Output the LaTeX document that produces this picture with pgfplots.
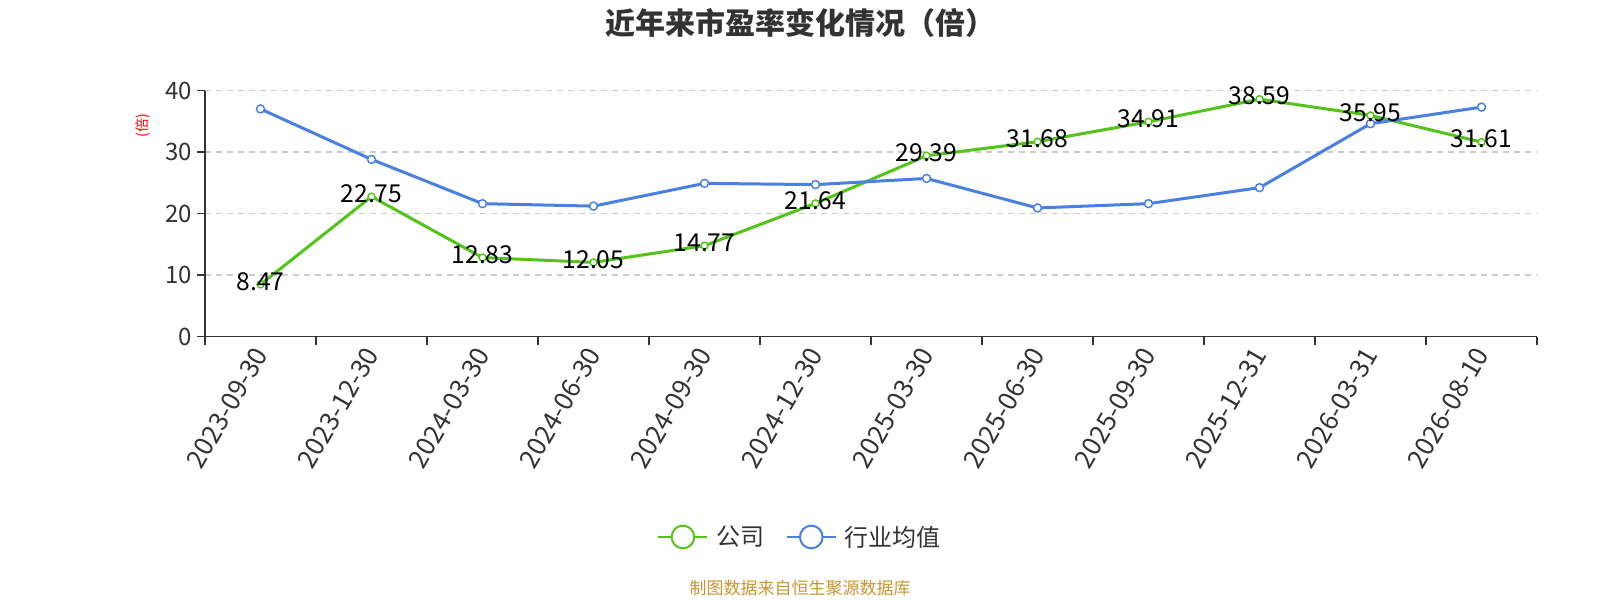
\documentclass[border=0pt]{standalone}
\usepackage{fontspec}
\setmainfont{Noto Sans CJK SC}
\usepackage{pgfplots}
\pgfplotsset{compat=1.18}
\definecolor{cgreen}{RGB}{82,196,26}
\definecolor{cblue}{RGB}{74,128,226}
\definecolor{ctext}{RGB}{51,51,51}
\definecolor{cgrid}{RGB}{204,204,204}
\definecolor{cfoot}{RGB}{200,150,50}
\begin{document}
\begin{tikzpicture}
\useasboundingbox (0pt,0pt) rectangle (1200pt,450pt);
\node[font=\fontsize{22.5pt}{26pt}\selectfont\bfseries, text=ctext] at (600pt,433pt) {近年来市盈率变化情况（倍）};
\node[font=\fontsize{10.5pt}{12pt}\selectfont, text=red, rotate=90] at (107pt,356pt) {(倍)};
\node[font=\fontsize{12.75pt}{15pt}\selectfont, text=cfoot] at (600pt,9pt) {制图数据来自恒生聚源数据库};
\begin{axis}[
  at={(153.75pt,197.625pt)}, anchor=south west,
  scale only axis, width=999pt, height=184.5pt,
  xmin=-0.5, xmax=11.5, ymin=0, ymax=40,
  clip=false,
  axis x line*=bottom, axis y line*=left,
  axis line style={-, draw=ctext, line width=1.1pt},
  tick align=outside,
  major tick length=6pt, minor tick length=6pt,
  xtick={0,...,11},
  xticklabels={2023-09-30,2023-12-30,2024-03-30,2024-06-30,2024-09-30,2024-12-30,2025-03-30,2025-06-30,2025-09-30,2025-12-31,2026-03-31,2026-08-10},
  minor xtick={-0.5,0.5,...,11.5},
  major x tick style={draw=none},
  minor x tick style={draw=ctext, line width=1.1pt},
  ytick={0,10,20,30,40},
  y tick style={draw=ctext, line width=1.1pt},
  xticklabel style={rotate=60, anchor=east, yshift=-2pt, font=\fontsize{19.5pt}{22pt}\selectfont, text=ctext},
  yticklabel style={font=\fontsize{18pt}{21pt}\selectfont, text=ctext},
  /pgf/number format/assume math mode=true,
  ymajorgrids,
  grid style={draw=cgrid, line width=1.1pt, dash pattern=on 4.5pt off 3.75pt},
  legend columns=2,
  legend style={at={(0.447,-0.815)}, anchor=center, draw=none, fill=none,
    font=\fontsize{18pt}{21pt}\selectfont, text=ctext,
    /tikz/every odd column/.append style={column sep=4pt},
    /tikz/every even column/.append style={column sep=14pt}},
]
\addplot[cgreen, line width=2.25pt, mark=*, mark size=2.6pt,
  mark options={fill=white, draw=cgreen, line width=1.1pt},
  legend image code/.code={\draw[cgreen, line width=1.5pt] (0pt,0pt) -- (36.75pt,0pt);
    \draw[cgreen, line width=1.5pt, fill=white] (18.4pt,0pt) circle[radius=8.5pt];}]
coordinates {(0,8.47) (1,22.75) (2,12.83) (3,12.05) (4,14.77) (5,21.64) (6,29.39) (7,31.68) (8,34.91) (9,38.59) (10,35.95) (11,31.61)};
\addlegendentry{公司}
\addplot[cblue, line width=2.25pt, mark=*, mark size=3pt,
  mark options={fill=white, draw=cblue, line width=1.1pt},
  legend image code/.code={\draw[cblue, line width=1.5pt] (0pt,0pt) -- (36.75pt,0pt);
    \draw[cblue, line width=1.5pt, fill=white] (18.4pt,0pt) circle[radius=8.5pt];}]
coordinates {(0,37.0) (1,28.8) (2,21.6) (3,21.2) (4,24.9) (5,24.7) (6,25.7) (7,20.9) (8,21.6) (9,24.2) (10,34.6) (11,37.3)};
\addlegendentry{行业均值}
\addplot[draw=none, mark=none, forget plot,
  nodes near coords, point meta=explicit symbolic,
  every node near coord/.append style={anchor=center, yshift=2.25pt, font=\fontsize{18.5pt}{22pt}\selectfont, text=black}]
coordinates {(0,8.47) [8.47] (1,22.75) [22.75] (2,12.83) [12.83] (3,12.05) [12.05] (4,14.77) [14.77] (5,21.64) [21.64] (6,29.39) [29.39] (7,31.68) [31.68] (8,34.91) [34.91] (9,38.59) [38.59] (10,35.95) [35.95] (11,31.61) [31.61]};
\end{axis}
\end{tikzpicture}
\end{document}
